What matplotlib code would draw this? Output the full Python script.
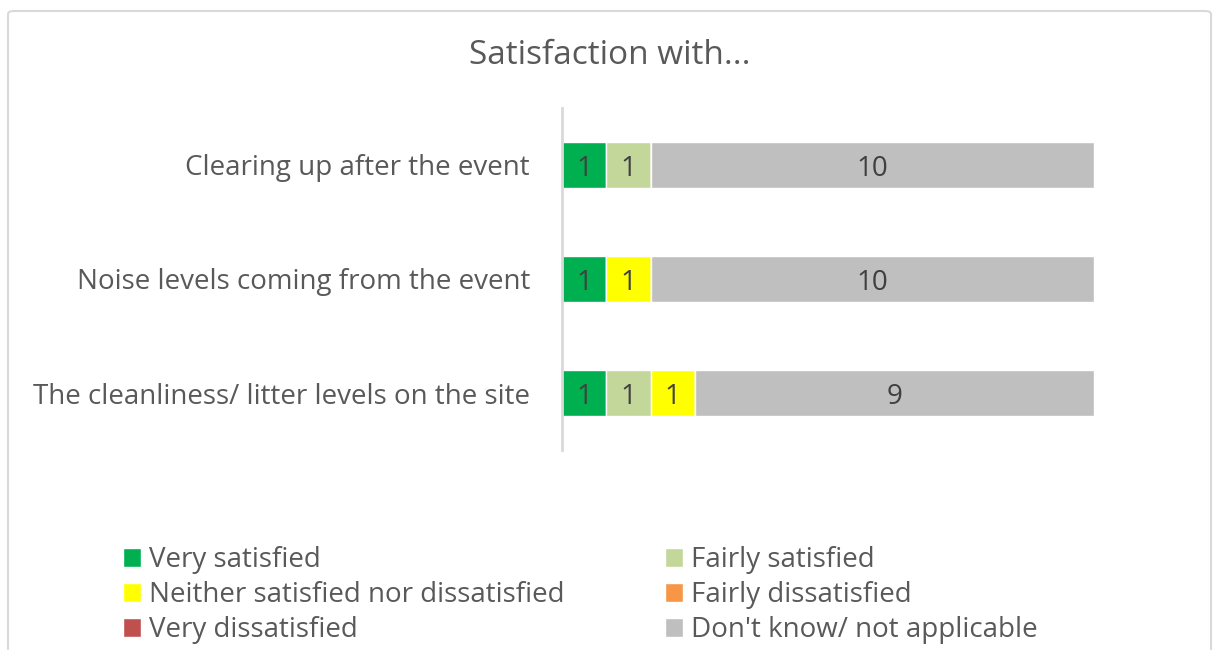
import matplotlib.pyplot as plt
import numpy as np
from matplotlib.patches import FancyBboxPatch

plt.rcParams['font.family'] = ['Open Sans', 'DejaVu Sans']

# categories from top to bottom
categories = ['Clearing up after the event',
              'Noise levels coming from the event',
              'The cleanliness/ litter levels on the site']
series = ['Very satisfied', 'Fairly satisfied', 'Neither satisfied nor dissatisfied',
          'Fairly dissatisfied', 'Very dissatisfied', "Don't know/ not applicable"]
very_satisfied = [1, 1, 1]
fairly_satisfied = [1, 0, 1]
neither = [0, 1, 1]
fairly_dissatisfied = [0, 0, 0]
very_dissatisfied = [0, 0, 0]
dont_know = [10, 10, 9]
colors = ['#00B050', '#C4D79B', '#FFFF00', '#F79646', '#C0504D', '#BFBFBF']

values = [very_satisfied, fairly_satisfied, neither,
          fairly_dissatisfied, very_dissatisfied, dont_know]

fig = plt.figure(figsize=(12.14, 6.5), dpi=100)
ax = fig.add_axes([562 / 1214, 200 / 650, 532 / 1214, 342 / 650])

y = np.arange(len(categories))
left = np.zeros(len(categories))
handles = []
for name, vals, c in zip(series, values, colors):
    vals = np.array(vals, dtype=float)
    bars = ax.barh(y, vals, left=left, height=0.4, color=c,
                   edgecolor='white', linewidth=1, label=name)
    labels = [f'{int(v)}' if v > 0 else '' for v in vals]
    txts = ax.bar_label(bars, labels=labels, label_type='center',
                        color='#404040', fontsize=20)
    for t in txts:
        t.set_va('center_baseline')
    handles.append(bars)
    left += vals

ax.set_xlim(0, 12)
ax.set_ylim(2.5, -0.5)
ax.set_yticks(y)
ax.set_yticklabels(categories, fontsize=20, color='#595959', va='center_baseline')
ax.tick_params(axis='y', length=0, pad=23)
ax.set_xticks([])
for s in ['top', 'right', 'bottom']:
    ax.spines[s].set_visible(False)
ax.spines['left'].set_color('#D9D9D9')
ax.spines['left'].set_linewidth(2)

fig.text(610 / 1214, 1 - 55 / 650, 'Satisfaction with...', ha='center', va='center',
         fontsize=24, color='#595959')

order = [0, 2, 4, 1, 3, 5]
fig.legend([handles[i] for i in order], [series[i] for i in order],
           ncol=2, loc='upper left', bbox_to_anchor=(123 / 1214, 1 - 546 / 650),
           frameon=False, fontsize=20, labelcolor='#595959',
           handlelength=0.65, handleheight=0.65, handletextpad=0.3,
           labelspacing=0.26, columnspacing=3.6, borderaxespad=0, borderpad=0)

border = FancyBboxPatch((8 / 1214, -0.05), 1203 / 1214, 1.05 - 11 / 650,
                        boxstyle='round,pad=0,rounding_size=0.005',
                        transform=fig.transFigure, fill=False,
                        edgecolor='#D9D9D9', linewidth=1.5)
fig.patches.append(border)

fig.savefig('out.png', dpi=100)
